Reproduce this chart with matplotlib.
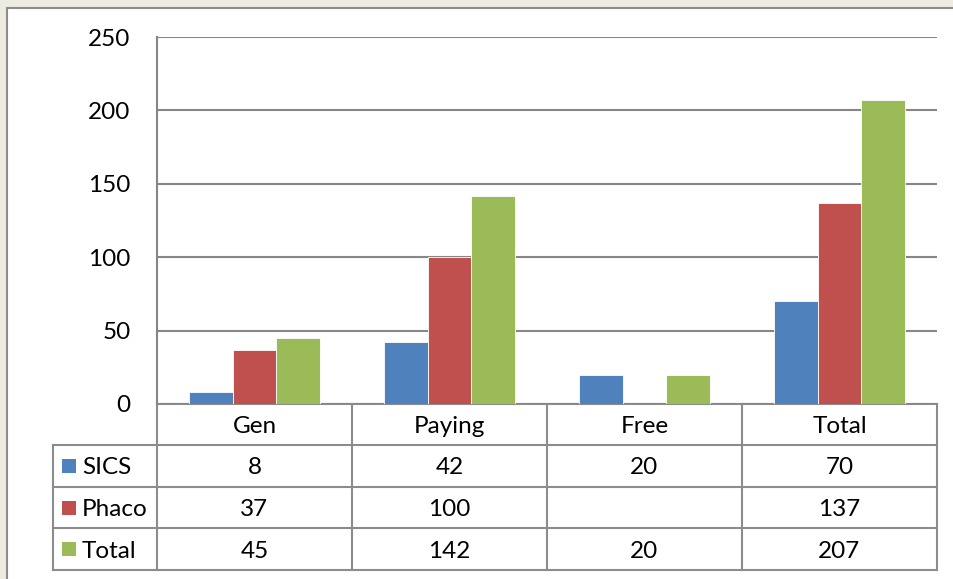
import numpy as np
import matplotlib
matplotlib.use('Agg')
from matplotlib import pyplot as plt
from matplotlib.patches import Rectangle
from matplotlib.lines import Line2D

plt.rcParams['font.family'] = ['Lato', 'DejaVu Sans']

categories = ['Gen', 'Paying', 'Free', 'Total']
series_names = ['SICS', 'Phaco', 'Total']
sics = [8, 42, 20, 70]
phaco = [37, 100, None, 137]
total = [45, 142, 20, 207]
colors = ['#4F81BD', '#C0504D', '#9BBB59']
yticks = [0, 50, 100, 150, 200, 250]

FS = 17.5
W, H = 954, 579
fig = plt.figure(figsize=(W/100, H/100), dpi=100)
fig.patch.set_facecolor('#EEECE1')

# background panel
bg = fig.add_axes([0, 0, 1, 1])
bg.set_xlim(0, W)
bg.set_ylim(H, 0)
bg.axis('off')
bg.add_patch(Rectangle((7, 8), W, H, facecolor='white', edgecolor='#8C8C8C', lw=1.5))

# plot area in pixels
x0, x1, ytop, ybot = 157, 937, 37, 404
ax = fig.add_axes([x0/W, 1-ybot/H, (x1-x0)/W, (ybot-ytop)/H])
ax.set_facecolor('none')
ax.set_xlim(-0.5, len(categories)-0.5)
ax.set_ylim(0, 250)
ax.set_yticks(yticks)
ax.set_xticks([])
ax.yaxis.grid(True, color='#868686', lw=1.5)
ax.set_axisbelow(True)
for s in ['top', 'right', 'bottom']:
    ax.spines[s].set_visible(False)
ax.spines['left'].set_color('#868686')
ax.spines['left'].set_linewidth(1.5)
ax.tick_params(axis='y', length=0, pad=19, labelsize=FS)

bw = 0.223
x = np.arange(len(categories))
data = [sics, phaco, total]
for i, (vals, c) in enumerate(zip(data, colors)):
    v = [0 if d is None else d for d in vals]
    ax.bar(x + (i-1)*bw, v, width=bw, color=c, edgecolor='white', lw=0.6)

# data table
col_w = (x1 - x0) / len(categories)
rows_y = [404, 445, 487, 528, 570]
lc = '#8C8C8C'
lw = 1.5
dy = 2  # nudge text down a bit
# horizontal lines
bg.add_line(Line2D([x0, x1], [rows_y[0], rows_y[0]], color=lc, lw=lw))
for yy in rows_y[1:]:
    bg.add_line(Line2D([53, x1], [yy, yy], color=lc, lw=lw))
# vertical lines
for k in range(len(categories)+1):
    xx = x0 + k*col_w
    bg.add_line(Line2D([xx, xx], [rows_y[0], rows_y[-1]], color=lc, lw=lw))
bg.add_line(Line2D([53, 53], [rows_y[1], rows_y[-1]], color=lc, lw=lw))

for k, cat in enumerate(categories):
    cx = x0 + (k+0.5)*col_w
    bg.text(cx, (rows_y[0]+rows_y[1])/2 + dy, cat, ha='center', va='center', fontsize=FS)
for r, (name, vals, c) in enumerate(zip(series_names, data, colors)):
    cy = (rows_y[r+1] + rows_y[r+2]) / 2
    bg.add_patch(Rectangle((62, cy-7), 14, 14, facecolor=c, edgecolor='none'))
    bg.text(82, cy + dy, name, ha='left', va='center', fontsize=FS)
    for k, v in enumerate(vals):
        if v is None:
            continue
        cx = x0 + (k+0.5)*col_w
        bg.text(cx, cy + dy, str(v), ha='center', va='center', fontsize=FS)

fig.savefig('out.png', dpi=100, facecolor=fig.get_facecolor())
